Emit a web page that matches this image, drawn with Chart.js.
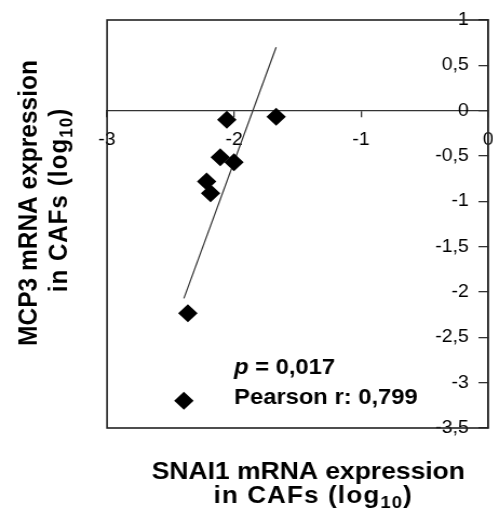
<!DOCTYPE html>
<html>
<head>
<meta charset="utf-8">
<script src="https://cdn.jsdelivr.net/npm/chart.js@4/dist/chart.umd.min.js"></script>
<style>
  html, body { margin: 0; padding: 0; background: #fff; overflow: hidden; width: 493px; height: 520px; }
  #wrap { position: absolute; left: 0; top: 0; width: 470px; height: 520px; transform: scaleX(1.08); transform-origin: 0 0; }
</style>
</head>
<body>
<div id="wrap"><canvas id="c" width="470" height="520"></canvas></div>
<script>
// SNAI1 (x) versus MCP3 (y) mRNA expression in CAFs, both as log10
const snai1 = [-2.057, -1.669, -2.109, -2.001, -2.216, -2.185, -2.364, -2.395];
const mcp3  = [-0.10, -0.066, -0.514, -0.569, -0.78, -0.91, -2.234, -3.20];

// end points of the linear trend line
const fitX = [-2.395, -1.669];
const fitY = [-2.07, 0.70];

// axis ticks and their printed labels (decimal comma)
const xTicks = [-3, -2, -1, 0];
const xTickLabels = ['-3', '-2', '-1', '0'];
const yTicks = [1, 0.5, 0, -0.5, -1, -1.5, -2, -2.5, -3, -3.5];
const yTickLabels = ['1', '0,5', '0', '-0,5', '-1', '-1,5', '-2', '-2,5', '-3', '-3,5'];

// statistics printed inside the plot
const pValueText = ' = 0,017';
const pearsonText = 'Pearson r: 0,799';

const FONT = "'Liberation Sans', Arial, Helvetica, sans-serif";

function labelFor(values, labels) {
  return (v) => {
    const i = values.findIndex(t => Math.abs(t - v) < 1e-9);
    return i >= 0 ? labels[i] : '';
  };
}

// draw a run of text pieces (different fonts / baseline shifts) as one line
function drawRun(ctx, parts, x, y, align, spacing) {
  const sp = spacing || 0;
  let total = 0;
  parts.forEach(p => {
    ctx.font = p.font;
    p.w = ctx.measureText(p.text).width + sp * p.text.length;
    total += p.w;
  });
  let cx = align === 'center' ? x - total / 2 : x;
  ctx.textAlign = 'left';
  ctx.textBaseline = 'alphabetic';
  parts.forEach(p => {
    ctx.font = p.font;
    if (sp) {
      for (const ch of p.text) {
        ctx.fillText(ch, cx, y + (p.dy || 0));
        cx += ctx.measureText(ch).width + sp;
      }
    } else {
      ctx.fillText(p.text, cx, y + (p.dy || 0));
      cx += p.w;
    }
  });
}

const framePlugin = {
  id: 'plotFrame',
  beforeDatasetsDraw(chart) {
    const { ctx, chartArea: a } = chart;
    ctx.save();
    ctx.strokeStyle = '#222';
    ctx.lineWidth = 1.6;
    ctx.strokeRect(a.left, a.top, a.right - a.left, a.bottom - a.top);
    ctx.restore();
  }
};

const textPlugin = {
  id: 'texts',
  afterDraw(chart) {
    const { ctx } = chart;
    const xs = chart.scales.x, ys = chart.scales.y;
    const bold = (s) => `bold ${s}px ${FONT}`;
    const unitLine = [
      { text: 'in CAFs (log', font: bold(24) },
      { text: '10', font: bold(17), dy: 5 },
      { text: ')', font: bold(24) }
    ];
    ctx.save();
    ctx.fillStyle = '#000';

    // statistics
    const sx = xs.getPixelForValue(-2);
    drawRun(ctx, [
      { text: 'p', font: `italic bold 22px ${FONT}` },
      { text: pValueText, font: bold(22) }
    ], sx, ys.getPixelForValue(-2.9), 'left');
    drawRun(ctx, [{ text: pearsonText, font: bold(22) }], sx, ys.getPixelForValue(-3.23), 'left');

    // x axis title
    drawRun(ctx, [{ text: 'SNAI1 mRNA expression', font: bold(24.5) }], 285.5, 479, 'center');
    drawRun(ctx, unitLine, 290, 503, 'center', 1.1);

    // y axis title (rotated)
    ctx.save();
    ctx.translate(0, 203);
    ctx.rotate(-Math.PI / 2);
    drawRun(ctx, [{ text: 'MCP3 mRNA expression', font: bold(24.5) }], 0, 34, 'center');
    drawRun(ctx, unitLine, 3, 62, 'center', 1.1);
    ctx.restore();

    ctx.restore();
  }
};

new Chart(document.getElementById('c'), {
  type: 'scatter',
  data: {
    datasets: [
      {
        label: 'CAFs',
        data: snai1.map((x, i) => ({ x, y: mcp3[i] })),
        pointStyle: 'rectRot',
        pointRadius: 9,
        pointBackgroundColor: '#000',
        pointBorderWidth: 0,
        order: 1
      },
      {
        type: 'line',
        label: 'trend',
        data: fitX.map((x, i) => ({ x, y: fitY[i] })),
        borderColor: '#333',
        borderWidth: 1.2,
        pointRadius: 0,
        fill: false,
        order: 2
      }
    ]
  },
  options: {
    responsive: false,
    animation: false,
    events: [],
    layout: { padding: { left: 99.1, right: 8.4, top: 20, bottom: 92 } },
    plugins: { legend: { display: false }, tooltip: { enabled: false } },
    scales: {
      x: {
        type: 'linear',
        position: { y: 0 },
        min: -3, max: 0,
        afterBuildTicks: s => { s.ticks = xTicks.map(v => ({ value: v })); },
        afterFit: s => { s.height = 0; },
        grid: { drawOnChartArea: false, drawTicks: true, tickLength: 6, color: '#333', lineWidth: 1.3 },
        border: { display: true, color: '#333', width: 1.3 },
        ticks: {
          padding: 13, color: '#000', autoSkip: false, maxRotation: 0,
          font: { family: FONT, size: 18 },
          callback: labelFor(xTicks, xTickLabels)
        }
      },
      y: {
        type: 'linear',
        position: 'right',
        min: -3.5, max: 1,
        afterBuildTicks: s => { s.ticks = yTicks.map(v => ({ value: v })); },
        afterFit: s => { s.width = 0; },
        grid: { drawOnChartArea: false, drawTicks: true, tickLength: -9, color: '#333', lineWidth: 1.3 },
        border: { display: true, color: '#333', width: 1.3 },
        ticks: {
          mirror: true, padding: -18, color: '#000', autoSkip: false,
          font: { family: FONT, size: 18 },
          callback: labelFor(yTicks, yTickLabels)
        }
      }
    }
  },
  plugins: [framePlugin, textPlugin]
});
</script>
</body>
</html>
